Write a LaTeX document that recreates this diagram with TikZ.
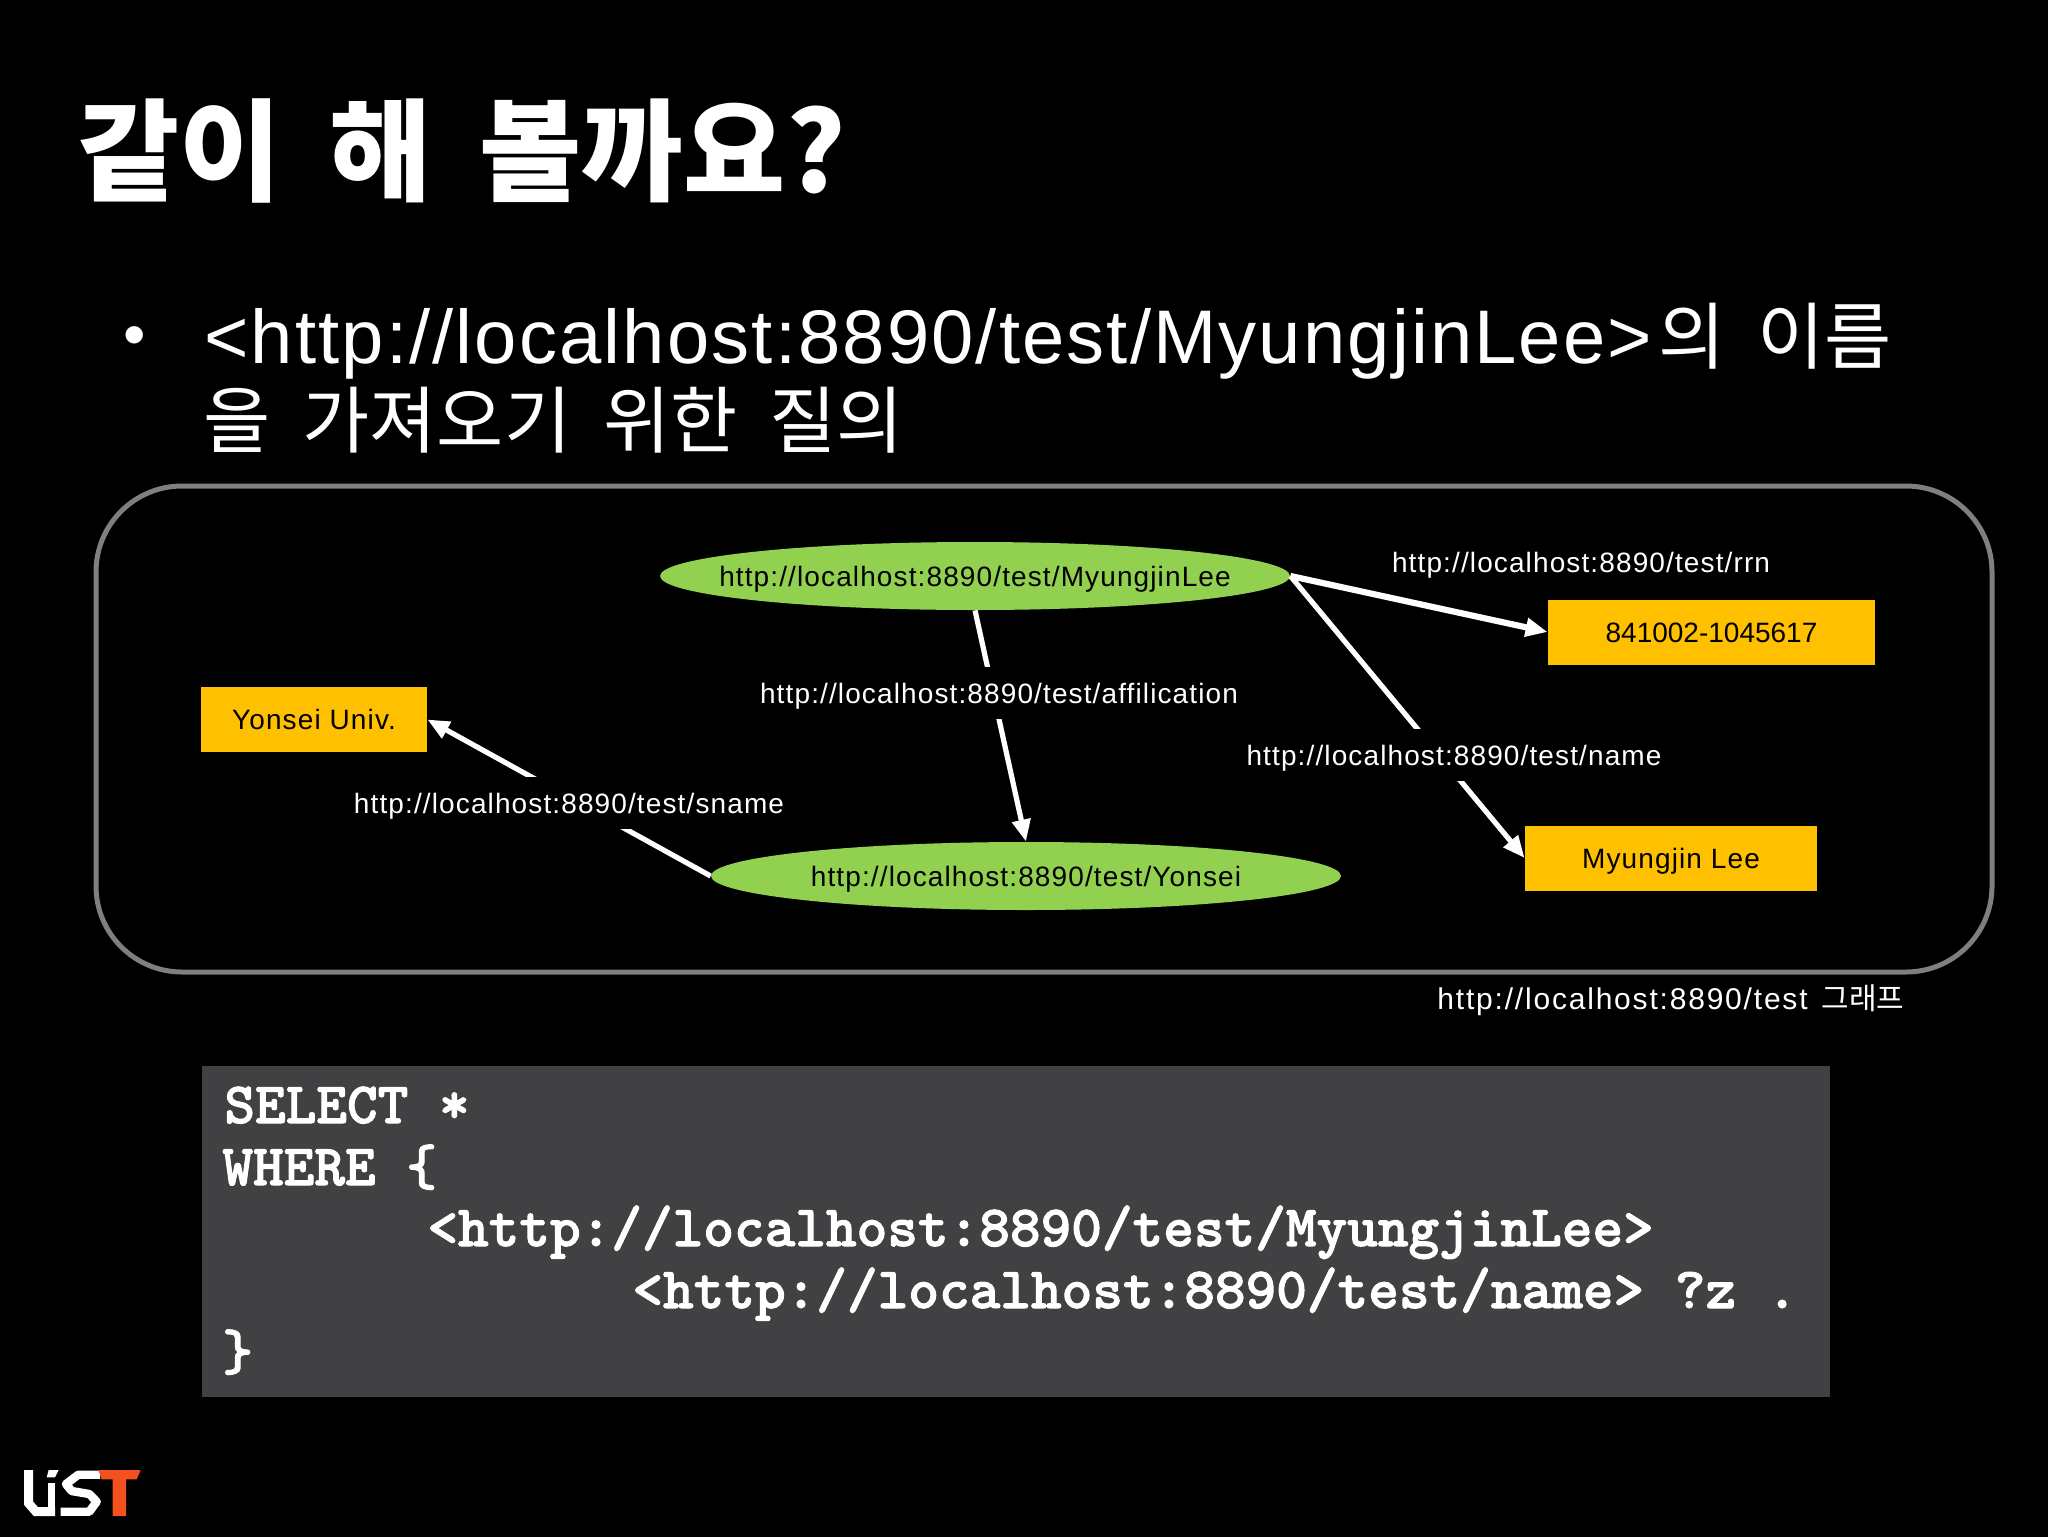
\documentclass[tikz,border=0pt]{standalone}
\usepackage{fontspec}
\setmainfont{Liberation Sans}
\newfontfamily\kr{Noto Sans CJK KR}
\usetikzlibrary{shapes.geometric,arrows.meta}
\definecolor{ongreen}{HTML}{92D050}
\definecolor{onorange}{HTML}{FFC000}
\definecolor{codebg}{HTML}{414042}
\definecolor{framegrey}{HTML}{7F7F7F}
\definecolor{logot}{HTML}{F4511E}
\newcommand\krsp{\hspace{16pt}}
\newcommand\inell[1]{\makebox[0pt][c]{#1}}
\newcommand\heavy{\special{pdf:code 1 1 1 RG 0.5 w 2 Tr}}
\tikzset{
  smallfont/.style={font=\fontsize{14}{16}\selectfont\addfontfeature{LetterSpace=4},text height=10pt,text depth=0pt},
  resource/.style={ellipse,fill=ongreen,inner sep=0pt,minimum width=315pt,minimum height=34pt,text=black,smallfont},
  literal/.style={rectangle,fill=onorange,inner sep=0pt,minimum height=32.5pt,text=black,smallfont},
  edgeline/.style={draw=white,line width=2.6pt},
  arrowline/.style={edgeline,-{Triangle[length=11pt,width=9pt]}},
  edgelabel/.style={fill=black,text=white,inner sep=0pt,minimum height=26pt,smallfont},
  bodytext/.style={text=white,anchor=base west,inner sep=0pt,font=\fontsize{38}{44}\selectfont},
  hangul/.style={font=\kr\fontsize{36.5}{44}\selectfont},
  codetext/.style={text=white,anchor=base west,inner sep=0pt,font=\ttfamily\bfseries\fontsize{29.2}{34}\selectfont\heavy},
}
\begin{document}
\begin{tikzpicture}[x=0.5pt,y=-0.5pt]
\useasboundingbox (0,0) rectangle (2048,1536);
\fill[black] (-10,-10) rectangle (2058,1546);
\node[anchor=base west,text=white,inner sep=0pt,font=\kr\bfseries\fontsize{55.5}{60}\selectfont] (title) at (77,192) {같이\hspace{24pt}해\hspace{24pt}볼까요?};
\node[text=white,inner sep=0pt,font=\fontsize{32}{36}\selectfont] (bullet) at (135,342) {•};
\node[bodytext] (line1) at (204,363) {\addfontfeature{LetterSpace=2.8}<http://localhost:8890/test/MyungjinLee>\hspace{3pt}{\kr\fontsize{36.5}{44}\selectfont 의\krsp{}이름}};
\node[bodytext,hangul] (line2) at (203,447) {을\krsp{}가져오기\krsp{}위한\krsp{}질의};
\node[draw=framegrey,line width=2.5pt,rounded corners=43pt,minimum width=948pt,minimum height=243pt,inner sep=0pt] (frame) at (1044,729) {};
\node[resource] (me) at (975,576) {\inell{http://localhost:8890/test/MyungjinLee}};
\node[resource] (yonsei) at (1026,876) {\inell{http://localhost:8890/test/Yonsei}};
\node[literal,minimum width=113pt] (univ) at (314,719.5) {Yonsei Univ.};
\node[literal,minimum width=163.5pt,font=\fontsize{14}{16}\selectfont] (rrn) at (1711.5,632) {841002-1045617};
\node[literal,minimum width=146pt] (lee) at (1671,858) {Myungjin Lee};
\draw[arrowline,line width=3.1pt] (me.east) -- (rrn.west);
\draw[arrowline] (me.east) -- (lee.west);
\draw[arrowline] (me.south) -- (yonsei.north);
\draw[arrowline] (yonsei.west) -- (univ.east);
\node[edgelabel] (lrrn) at (1581,562) {http://localhost:8890/test/rrn};
\node[edgelabel] (laff) at (999,693) {http://localhost:8890/test/affilication};
\node[edgelabel] (lname) at (1454,755) {http://localhost:8890/test/name};
\node[edgelabel] (lsname) at (569,803) {http://localhost:8890/test/sname};
\node[edgelabel,fill=none,font=\fontsize{15}{16}\selectfont\addfontfeature{LetterSpace=6}] (cap) at (1671,999) {http://localhost:8890/test\hspace{2pt} {\kr\fontsize{15}{16}\selectfont 그래프}};
\node[fill=codebg,inner sep=0pt,minimum width=814pt,minimum height=165.5pt] (code) at (1016,1231.5) {};
\node[codetext] (c1) at (224,1123) {SELECT *};
\node[codetext] (c2) at (222,1185) {WHERE \{};
\node[codetext] (c3) at (427,1246) {<http://localhost:8890/test/MyungjinLee>};
\node[codetext] (c4) at (632,1308) {<http://localhost:8890/test/name> ?z  .};
\node[codetext] (c5) at (222,1370) {\}};
\begin{scope}[shift={(0,1420)},x=0.1667pt,y=-0.1667pt]
\draw[white,line width=4.5pt,line join=miter] (86,150) -- (86,250) -- (108,275) -- (165,275);
\draw[white,line width=3.8pt] (155,288) -- (155,190);
\fill[white] (146,150) -- (176,150) -- (165,172) -- (140,172) -- cycle;
\draw[white,line width=4.2pt,line join=round] (300,164) -- (235,164) -- (198,192) -- (215,213) -- (268,222) -- (290,245) -- (268,275) -- (182,275);
\fill[logot] (295,150) -- (422,150) -- (410,178) -- (378,178) -- (378,288) -- (338,288) -- (338,178) -- (305,178) -- cycle;
\end{scope}
\end{tikzpicture}
\end{document}
